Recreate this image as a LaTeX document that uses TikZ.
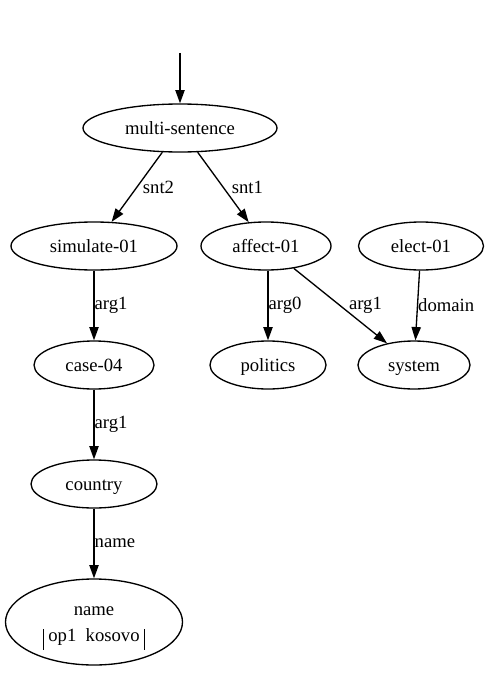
\documentclass[tikz,border=0pt]{standalone}
\usepackage{fontspec}
\setmainfont{Liberation Serif}
\usetikzlibrary{arrows.meta,shapes}

\newcommand{\recbar}{\rule[-6pt]{0.9pt}{15.5pt}}

\begin{document}
\begin{tikzpicture}[x=0.75pt,y=-0.75pt,line width=1pt,font=\fontsize{14}{16}\selectfont]
		\tikzstyle{concept}=[ellipse,draw,minimum height=36pt,inner sep=0pt,text centered,text height=9pt,text depth=0pt]
		\tikzstyle{rel}=[draw,-{Triangle[length=10pt,width=7pt]}]
		\tikzstyle{elabel}=[anchor=west,inner sep=0pt,pos=0.5]
		\useasboundingbox (0,0) rectangle (491,674);
		
		\coordinate (top) at (180,53);
		\node[concept,minimum width=145.5pt] (ms) at (180,128) {multi-sentence};
		\node[concept,minimum width=124.5pt] (sim) at (94,246) {simulate-01};
		\node[concept,minimum width=97.5pt] (aff) at (266,246) {affect-01};
		\node[concept,minimum width=93.75pt] (ele) at (421,246) {elect-01};
		\node[concept,minimum width=90pt] (cas) at (94,365) {case-04};
		\node[concept,minimum width=87pt] (pol) at (268,365) {politics};
		\node[concept,minimum width=84pt] (sys) at (414,365) {system};
		\node[concept,minimum width=94.5pt] (cou) at (94,484) {country};
		\node[ellipse,draw,inner sep=0pt,minimum width=132.75pt,minimum height=64.5pt,align=center,text height=30pt,text depth=0.4pt] (nam) at (94,622) {name\\[3.5pt]\recbar\hspace{3pt}op1\ \ kosovo\hspace{3pt}\recbar};
		
		\draw[rel] (top) -- (ms);
		\draw[rel] (ms) -- node[elabel,xshift=4pt] {snt2} (sim);
		\draw[rel] (ms) -- node[elabel,xshift=6pt] {snt1} (aff);
		\draw[rel] (sim) -- node[elabel] {arg1} (cas);
		\draw[rel] (aff.south -| pol) -- node[elabel] {arg0} (pol);
		\draw[rel] (aff) -- node[elabel,xshift=6pt] {arg1} (sys);
		\draw[rel] (ele) -- node[elabel] {domain} (sys);
		\draw[rel] (cas) -- node[elabel] {arg1} (cou);
		\draw[rel] (cou) -- node[elabel] {name} (nam);
		
	\end{tikzpicture}
\end{document}
